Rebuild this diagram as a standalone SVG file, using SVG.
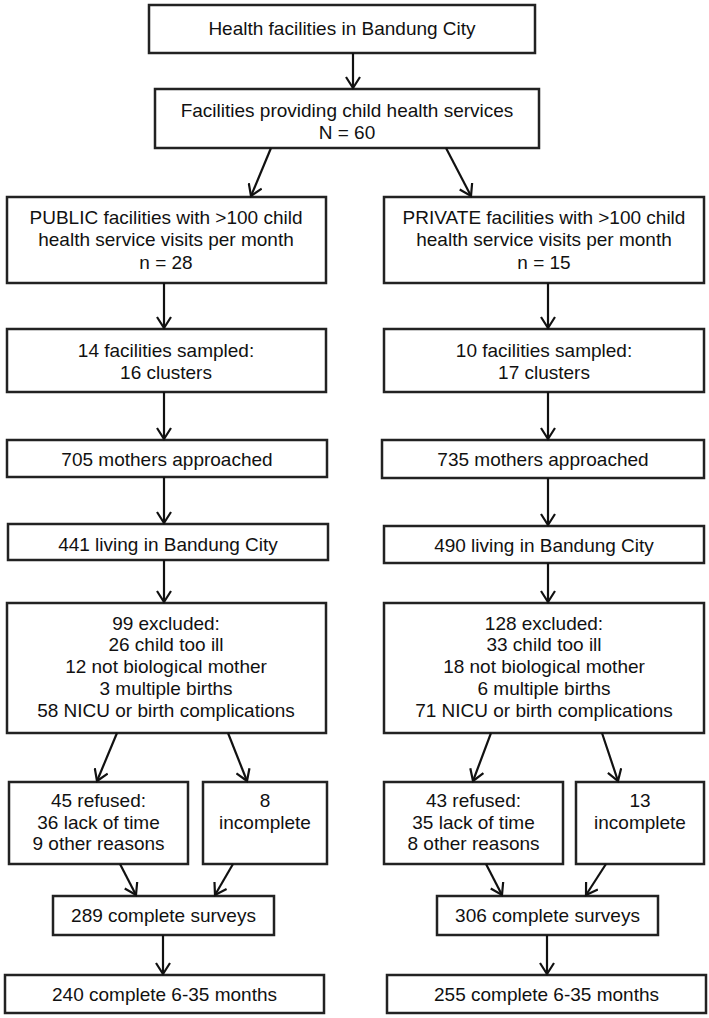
<svg xmlns="http://www.w3.org/2000/svg" width="709" height="1018" viewBox="0 0 709 1018">
<defs>
<style>
rect{fill:#fff;stroke:#222;stroke-width:2.5}
text{font-family:"Liberation Sans",Arial,sans-serif;font-size:19px;fill:#111;text-anchor:middle}
.c line{stroke:#111;stroke-width:2.2;marker-end:url(#ah)}
</style>
<marker id="ah" markerUnits="userSpaceOnUse" markerWidth="15" markerHeight="16" refX="12" refY="8" orient="auto">
<path d="M1,1 L12,8 L1,15" fill="none" stroke="#111" stroke-width="2.2"/>
</marker>
</defs>
<rect x="0" y="0" width="709" height="1018" style="fill:#fff;stroke:none"/>
<g id="n1"><rect x="149" y="5" width="386" height="48"/><text x="342" y="35">Health facilities in Bandung City</text></g>
<g id="n2"><rect x="155" y="89" width="384" height="59"/><text x="347" y="117">Facilities providing child health services</text><text x="347" y="139">N = 60</text></g>
<g id="pub1"><rect x="7" y="197" width="319" height="86"/><text x="166" y="224">PUBLIC facilities with &gt;100 child</text><text x="166" y="246">health service visits per month</text><text x="166" y="269">n = 28</text></g>
<g id="pri1"><rect x="384" y="197" width="320" height="86"/><text x="544" y="224">PRIVATE facilities with &gt;100 child</text><text x="544" y="246">health service visits per month</text><text x="544" y="269">n = 15</text></g>
<g id="pub2"><rect x="7" y="329" width="319" height="63"/><text x="166" y="357">14 facilities sampled:</text><text x="166" y="379">16 clusters</text></g>
<g id="pri2"><rect x="384" y="329" width="320" height="63"/><text x="544" y="357">10 facilities sampled:</text><text x="544" y="379">17 clusters</text></g>
<g id="pub3"><rect x="7" y="440" width="320" height="37"/><text x="167" y="466">705 mothers approached</text></g>
<g id="pri3"><rect x="382" y="440" width="322" height="38"/><text x="543" y="466">735 mothers approached</text></g>
<g id="pub4"><rect x="8" y="524" width="320" height="36"/><text x="168" y="551">441 living in Bandung City</text></g>
<g id="pri4"><rect x="384" y="526" width="320" height="37"/><text x="544" y="552">490 living in Bandung City</text></g>
<g id="pub5"><rect x="7" y="603" width="319" height="130"/><text x="166" y="630">99 excluded:</text><text x="166" y="651">26 child too ill</text><text x="166" y="673">12 not biological mother</text><text x="166" y="695">3 multiple births</text><text x="166" y="717">58 NICU or birth complications</text></g>
<g id="pri5"><rect x="384" y="603" width="320" height="130"/><text x="544" y="630">128 excluded:</text><text x="544" y="651">33 child too ill</text><text x="544" y="673">18 not biological mother</text><text x="544" y="695">6 multiple births</text><text x="544" y="717">71 NICU or birth complications</text></g>
<g id="pub6"><rect x="9" y="782" width="179" height="82"/><text x="98.5" y="807">45 refused:</text><text x="98.5" y="829">36 lack of time</text><text x="98.5" y="850">9 other reasons</text></g>
<g id="pub7"><rect x="203" y="782" width="124" height="82"/><text x="265" y="807">8</text><text x="265" y="829">incomplete</text></g>
<g id="pri6"><rect x="384" y="782" width="179" height="82"/><text x="473.5" y="807">43 refused:</text><text x="473.5" y="829">35 lack of time</text><text x="473.5" y="850">8 other reasons</text></g>
<g id="pri7"><rect x="576" y="782" width="128" height="82"/><text x="640" y="807">13</text><text x="640" y="829">incomplete</text></g>
<g id="pub8"><rect x="53" y="896" width="221" height="39"/><text x="163.5" y="922">289 complete surveys</text></g>
<g id="pri8"><rect x="437" y="896" width="221" height="39"/><text x="547.5" y="922">306 complete surveys</text></g>
<g id="pub9"><rect x="5" y="975" width="319" height="38"/><text x="164.5" y="1001">240 complete 6-35 months</text></g>
<g id="pri9"><rect x="387" y="975" width="319" height="38"/><text x="546.5" y="1001">255 complete 6-35 months</text></g>
<g id="connectors" class="c">
<line x1="353" y1="53" x2="353" y2="88"/>
<line x1="271" y1="148" x2="251" y2="196"/>
<line x1="446" y1="148" x2="471" y2="196"/>
<line x1="164" y1="283" x2="164" y2="328"/>
<line x1="548" y1="283" x2="548" y2="328"/>
<line x1="164" y1="392" x2="164" y2="439"/>
<line x1="548" y1="392" x2="548" y2="439"/>
<line x1="164" y1="477" x2="164" y2="523"/>
<line x1="548" y1="478" x2="548" y2="525"/>
<line x1="164" y1="560" x2="164" y2="602"/>
<line x1="548" y1="563" x2="548" y2="602"/>
<line x1="117" y1="733" x2="97" y2="781"/>
<line x1="228" y1="733" x2="247" y2="781"/>
<line x1="491" y1="733" x2="473" y2="781"/>
<line x1="602" y1="733" x2="618" y2="781"/>
<line x1="120" y1="864" x2="136" y2="895"/>
<line x1="233" y1="864" x2="215" y2="895"/>
<line x1="486" y1="864" x2="502" y2="895"/>
<line x1="606" y1="864" x2="586" y2="895"/>
<line x1="163" y1="935" x2="163" y2="974"/>
<line x1="547" y1="935" x2="547" y2="974"/>
</g>
</svg>
